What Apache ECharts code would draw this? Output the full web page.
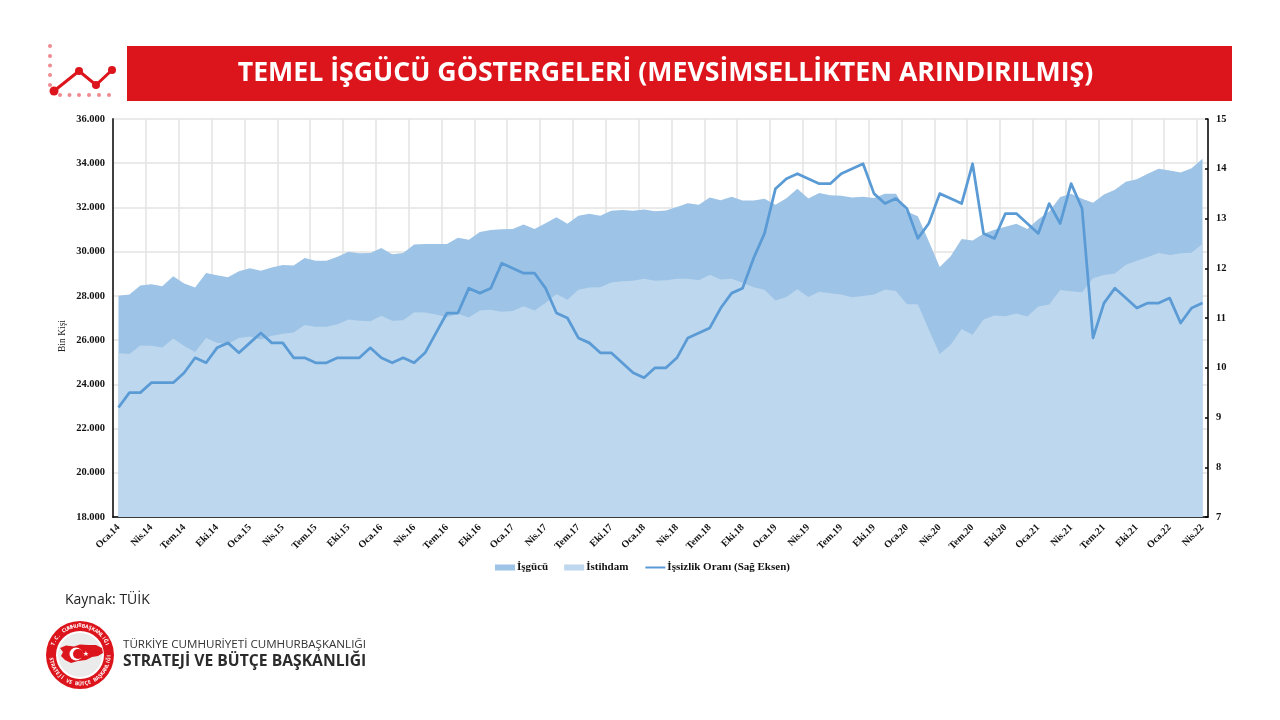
<!DOCTYPE html>
<html lang="tr">
<head>
<meta charset="utf-8">
<title>Temel İşgücü Göstergeleri</title>
<script src="https://cdn.jsdelivr.net/npm/echarts@6/dist/echarts.min.js"></script>
<style>
    html, body { margin: 0; padding: 0; background: #fff; }
    #chart { width: 1280px; height: 720px; }
</style>
</head>
<body>
<div id="chart"></div>
<script>
// aylar
const months = [
    'Oca.14','Şub.14','Mar.14','Nis.14','May.14','Haz.14','Tem.14','Ağu.14','Eyl.14','Eki.14','Kas.14','Ara.14',
    'Oca.15','Şub.15','Mar.15','Nis.15','May.15','Haz.15','Tem.15','Ağu.15','Eyl.15','Eki.15','Kas.15','Ara.15',
    'Oca.16','Şub.16','Mar.16','Nis.16','May.16','Haz.16','Tem.16','Ağu.16','Eyl.16','Eki.16','Kas.16','Ara.16',
    'Oca.17','Şub.17','Mar.17','Nis.17','May.17','Haz.17','Tem.17','Ağu.17','Eyl.17','Eki.17','Kas.17','Ara.17',
    'Oca.18','Şub.18','Mar.18','Nis.18','May.18','Haz.18','Tem.18','Ağu.18','Eyl.18','Eki.18','Kas.18','Ara.18',
    'Oca.19','Şub.19','Mar.19','Nis.19','May.19','Haz.19','Tem.19','Ağu.19','Eyl.19','Eki.19','Kas.19','Ara.19',
    'Oca.20','Şub.20','Mar.20','Nis.20','May.20','Haz.20','Tem.20','Ağu.20','Eyl.20','Eki.20','Kas.20','Ara.20',
    'Oca.21','Şub.21','Mar.21','Nis.21','May.21','Haz.21','Tem.21','Ağu.21','Eyl.21','Eki.21','Kas.21','Ara.21',
    'Oca.22','Şub.22','Mar.22','Nis.22'
];

// işgücü (bin kişi)
const isgucu = [
    28010,28060,28470,28530,28440,28890,28560,28380,29040,28930,28840,29110,
    29250,29140,29280,29400,29370,29710,29590,29590,29770,30000,29930,29940,
    30170,29880,29940,30320,30350,30350,30350,30630,30540,30890,30980,31010,
    31020,31230,31020,31290,31560,31260,31620,31710,31620,31850,31890,31850,
    31910,31830,31860,32015,32195,32120,32450,32330,32480,32315,32315,32390,
    32120,32420,32840,32400,32650,32555,32525,32450,32480,32430,32620,32620,
    31820,31600,30470,29310,29790,30570,30510,30810,30990,31130,31260,31020,
    31470,31820,32470,32620,32390,32210,32590,32800,33160,33280,33520,33745,
    33670,33580,33775,34200
];

// istihdam (bin kişi)
const istihdam = [
    25410,25370,25760,25745,25670,26075,25730,25460,26090,25880,25820,26090,
    26165,26030,26195,26285,26345,26680,26600,26600,26720,26930,26870,26855,
    27100,26870,26900,27260,27250,27160,27050,27190,27020,27340,27370,27280,
    27320,27530,27340,27680,28090,27830,28280,28375,28390,28600,28660,28690,
    28770,28680,28710,28780,28780,28710,28960,28740,28780,28590,28390,28280,
    27790,27950,28300,27950,28190,28120,28060,27940,28000,28060,28285,28225,
    27620,27620,26480,25370,25790,26500,26240,26930,27110,27080,27200,27070,
    27520,27610,28270,28210,28165,28800,28950,29010,29410,29590,29760,29940,
    29850,29925,29955,30360
];

// işsizlik oranı (%)
const issizlik = [
    9.2,9.5,9.5,9.7,9.7,9.7,9.9,10.2,10.1,10.4,10.5,10.3,
    10.5,10.7,10.5,10.5,10.2,10.2,10.1,10.1,10.2,10.2,10.2,10.4,
    10.2,10.1,10.2,10.1,10.3,10.7,11.1,11.1,11.6,11.5,11.6,12.1,
    12.0,11.9,11.9,11.6,11.1,11.0,10.6,10.5,10.3,10.3,10.1,9.9,
    9.8,10.0,10.0,10.2,10.6,10.7,10.8,11.2,11.5,11.6,12.2,12.7,
    13.6,13.8,13.9,13.8,13.7,13.7,13.9,14.0,14.1,13.5,13.3,13.4,
    13.2,12.6,12.9,13.5,13.4,13.3,14.1,12.7,12.6,13.1,13.1,12.9,
    12.7,13.3,12.9,13.7,13.2,10.6,11.3,11.6,11.4,11.2,11.3,11.3,
    11.4,10.9,11.2,11.3
];

const colors = {
    isgucu: '#9DC3E6',
    istihdam: '#BDD7EE',
    issizlik: '#5B9BD5',
    grid: '#E3E3E3',
    red: '#DC141B',
    pink: '#EF8A91'
};

const serif = '"Liberation Serif", serif';
const sans = '"Open Sans", sans-serif';

// sol üstteki küçük çizgi grafik ikonu
function iconElements() {
    const els = [];
    [46, 56, 65.5, 75, 85].forEach(y => {
        els.push({ type: 'circle', shape: { cx: 50, cy: y, r: 2 }, style: { fill: colors.pink } });
    });
    [60, 69.5, 79, 89, 99, 109].forEach(x => {
        els.push({ type: 'circle', shape: { cx: x, cy: 95, r: 2 }, style: { fill: colors.pink } });
    });
    const pts = [[54, 91], [79, 71], [96, 85], [112, 70]];
    els.push({ type: 'polyline', shape: { points: pts }, style: { stroke: colors.red, lineWidth: 3, fill: 'none' } });
    pts.forEach((p, i) => {
        els.push({ type: 'circle', shape: { cx: p[0], cy: p[1], r: i === 0 ? 4.5 : 4 }, style: { fill: colors.red } });
    });
    return els;
}

// daire üzerine harf harf yazı
function arcText(text, cx, cy, r, startDeg, stepDeg, inward) {
    return Array.from(text).map((ch, i) => {
        const a = (startDeg + i * stepDeg) * Math.PI / 180;
        return {
            type: 'text',
            x: cx + r * Math.sin(a),
            y: cy - r * Math.cos(a),
            rotation: inward ? -a : Math.PI - a,
            style: {
                text: ch, fill: '#fff', font: 'bold 5.2px ' + sans,
                textAlign: 'center', textVerticalAlign: 'middle'
            }
        };
    });
}

// kurum logosu
function logoElements() {
    const cx = 80, cy = 655;
    const turkey = [[60, 648], [66, 645.5], [74, 646.5], [80, 644.5], [88, 645], [96, 645], [102, 648], [103, 653],
        [98, 656], [92, 657], [86, 660], [78, 661], [71, 663], [65, 660], [61, 656], [63, 652]];
    const els = [
        { type: 'circle', shape: { cx: cx, cy: cy, r: 34 }, style: { fill: colors.red } },
        { type: 'circle', shape: { cx: cx, cy: cy, r: 24 }, style: { fill: '#fff' } },
        { type: 'circle', shape: { cx: cx, cy: cy, r: 22 }, style: { fill: '#EBEBEB' } },
        { type: 'polygon', shape: { points: turkey }, style: { fill: colors.red } },
        { type: 'circle', shape: { cx: 76, cy: 654, r: 6.5 }, style: { fill: '#fff' } },
        { type: 'circle', shape: { cx: 78, cy: 654, r: 5 }, style: { fill: colors.red } },
        { type: 'text', x: 86, y: 654, style: { text: '★', fill: '#fff', font: '7px "DejaVu Sans"', textAlign: 'center', textVerticalAlign: 'middle' } }
    ];
    return els.concat(
        arcText('T.C. CUMHURBAŞKANLIĞI', cx, cy, 29, -68, 6.8, true),
        arcText('STRATEJİ VE BÜTÇE BAŞKANLIĞI', cx, cy, 29, 262, -6.3, false)
    );
}

const chart = echarts.init(document.getElementById('chart'), null, { renderer: 'canvas' });

chart.setOption({
    animation: false,
    backgroundColor: '#fff',
    grid: { left: 113, right: 72, top: 119, bottom: 203, containLabel: false },
    legend: {
        left: 490,
        top: 557,
        itemWidth: 20,
        itemHeight: 6,
        itemGap: 16,
        textStyle: { fontFamily: serif, fontWeight: 'bold', fontSize: 11, color: '#111', padding: [0, 0, 0, -3] },
        data: [
            { name: 'İşgücü', icon: 'rect' },
            { name: 'İstihdam', icon: 'rect' },
            { name: 'İşsizlik Oranı (Sağ Eksen)', itemStyle: { opacity: 0 } }
        ]
    },
    xAxis: {
        type: 'category',
        data: months,
        boundaryGap: true,
        axisLine: { lineStyle: { color: '#000', width: 1.5 } },
        axisTick: { show: false },
        axisLabel: {
            interval: 2,
            rotate: 45,
            margin: 9,
            fontFamily: serif,
            fontWeight: 'bold',
            fontSize: 10,
            color: '#111'
        },
        splitLine: { show: true, interval: 2, lineStyle: { color: colors.grid, width: 1.5 } }
    },
    yAxis: [
        {
            type: 'value',
            min: 18000,
            max: 36000,
            interval: 2000,
            axisLine: { show: true, lineStyle: { color: '#404040', width: 2 } },
            axisTick: { show: false },
            axisLabel: {
                margin: 8,
                padding: [4, 0, 0, 0],
                fontFamily: serif,
                fontWeight: 'bold',
                fontSize: 10.5,
                color: '#111',
                formatter: v => String(v).replace(/(\d)(\d{3})$/, '$1.$2')
            },
            splitLine: { show: true, lineStyle: { color: colors.grid, width: 1.5 } }
        },
        {
            type: 'value',
            min: 7,
            max: 15,
            interval: 1,
            position: 'right',
            axisLine: { show: true, lineStyle: { color: '#000', width: 1.5 } },
            axisTick: { show: true, inside: true, length: 3, lineStyle: { color: '#000', width: 1.5 } },
            axisLabel: {
                margin: 8,
                padding: [4, 0, 0, 0],
                fontFamily: serif,
                fontWeight: 'bold',
                fontSize: 10.5,
                color: '#111'
            },
            splitLine: { show: false }
        }
    ],
    series: [
        {
            name: 'İşgücü',
            type: 'line',
            data: isgucu,
            symbol: 'none',
            lineStyle: { width: 0 },
            itemStyle: { color: colors.isgucu },
            areaStyle: { color: colors.isgucu, opacity: 1 },
            z: 2
        },
        {
            name: 'İstihdam',
            type: 'line',
            data: istihdam,
            symbol: 'none',
            lineStyle: { width: 0 },
            itemStyle: { color: colors.istihdam },
            areaStyle: { color: colors.istihdam, opacity: 1 },
            z: 3
        },
        {
            name: 'İşsizlik Oranı (Sağ Eksen)',
            type: 'line',
            yAxisIndex: 1,
            data: issizlik,
            symbol: 'none',
            lineStyle: { width: 2.75, color: colors.issizlik, join: 'round' },
            itemStyle: { color: colors.issizlik },
            z: 4
        }
    ],
    graphic: [
        { type: 'rect', shape: { x: 127, y: 46, width: 1105, height: 55 }, style: { fill: colors.red } },
        {
            type: 'text', x: 665.5, y: 73.5,
            style: {
                text: 'TEMEL İŞGÜCÜ GÖSTERGELERİ (MEVSİMSELLİKTEN ARINDIRILMIŞ)',
                fill: '#fff', font: 'bold 26.7px ' + sans, textAlign: 'center', textVerticalAlign: 'middle'
            }
        },
        {
            type: 'text', x: 62, y: 336, rotation: Math.PI / 2,
            style: { text: 'Bin Kişi', fill: '#222', font: '9.5px ' + serif, textAlign: 'center', textVerticalAlign: 'middle' }
        },
        {
            type: 'text', x: 65, y: 600,
            style: { text: 'Kaynak: TÜİK', fill: '#222', font: '14px ' + sans, textAlign: 'left', textVerticalAlign: 'middle' }
        },
        {
            type: 'text', x: 123, y: 645,
            style: { text: 'TÜRKİYE CUMHURİYETİ CUMHURBAŞKANLIĞI', fill: '#333', font: '11.6px ' + sans, textAlign: 'left', textVerticalAlign: 'middle' }
        },
        {
            type: 'text', x: 123, y: 662,
            style: { text: 'STRATEJİ VE BÜTÇE BAŞKANLIĞI', fill: '#2b2b2b', font: 'bold 15.7px ' + sans, textAlign: 'left', textVerticalAlign: 'middle' }
        }
    ].concat(iconElements(), logoElements())
});

window.addEventListener('resize', function() {
    chart.resize();
});
</script>
</body>
</html>
